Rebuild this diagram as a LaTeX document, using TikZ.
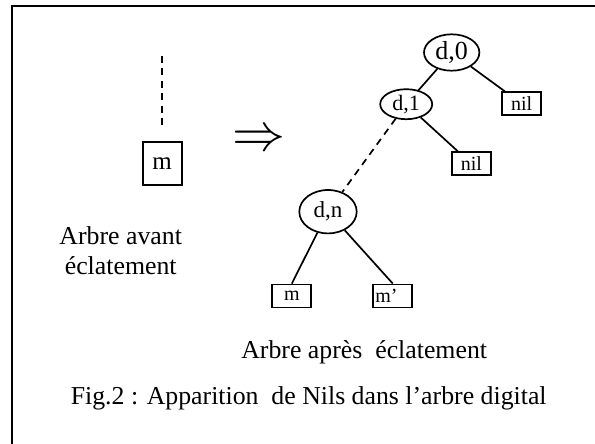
\documentclass[tikz,border=0pt]{standalone}
\usepackage{fontspec}
\setmainfont{Liberation Serif}
\usetikzlibrary{positioning, shapes.geometric}

\begin{document}
\begin{tikzpicture}
    [
        x=1pt, y=-1pt,
        on grid,
        node distance=50pt and 50pt,
        knot/.style={draw, ellipse, inner sep=0pt, line width=1.7pt},
        leaf/.style={draw, rectangle, inner sep=0pt, minimum width=39pt, minimum height=23pt, line width=1.8pt, font=\fontsize{20}{24}\selectfont},
        caption/.style={font=\fontsize{25.8}{30}\selectfont, align=center},
        edge/.style={line width=1.7pt},
        dots/.style={line width=2pt, dash pattern=on 7pt off 5.5pt}
    ]
        \useasboundingbox (0,0) rectangle (595,444);
        % --- frame ---
        \draw [line width=2.2pt] (12,444) -- (12,6) -- (595,6);

        % =========================================================================
        % NODES
        % =========================================================================
        % --- Before ---
        \coordinate (stem) at (162.2,56);
        \node [leaf, minimum height=43.3pt, font=\fontsize{25}{30}\selectfont] (m0) at (162.2,163.7) {m};
        \node [caption] (before) at (120.7,250.2) {Arbre avant\\éclatement};
        \node [scale=5.3] (impl) at (259,141) {$\Rightarrow$};
        % --- After ---
        \node [knot, minimum width=55.4pt, minimum height=36.4pt, font=\fontsize{26}{30}\selectfont] (d0) at (451.7,52.5) {d,0};
        \node [knot, minimum width=52pt, minimum height=30pt, font=\fontsize{22}{26}\selectfont, below left=51.7pt and 45.5pt of d0] (d1) {d,1};
        \node [leaf, below right=51.2pt and 70pt of d0] (nil0) {nil};
        \node [leaf, below right=59.5pt and 65.2pt of d1] (nil1) {nil};
        \node [knot, minimum width=57.4pt, minimum height=43.4pt, font=\fontsize{23}{27}\selectfont, below left=107.5pt and 78.2pt of d1] (dn) {d,n};
        \node [leaf, below left=84.3pt and 36.2pt of dn] (m1) {m};
        \node [leaf, text width=35pt, align=left, inner xsep=2pt, below right=84.3pt and 64.8pt of dn] (m2) {m’};
        % --- Captions ---
        \node [caption, anchor=base] (after) at (364.2,358) {Arbre après~ éclatement};
        \node [caption, anchor=base] (fig) at (308.7,404) {Fig.2 : Apparition~ de Nils dans l’arbre digital};

        % =========================================================================
        % PATHS
        % =========================================================================
        \draw [dots, shorten >=10.3pt] (stem) -- (m0);
        \draw [edge] (d0) -- (d1);
        \draw [edge] (d0) -- (nil0);
        \draw [edge] (d1) -- (nil1);
        \draw [dots, line width=1.7pt] (d1) -- (dn);
        \draw [edge] (dn) -- (m1.north);
        \draw [edge] (dn) -- (m2.north);
    \end{tikzpicture}
\end{document}
